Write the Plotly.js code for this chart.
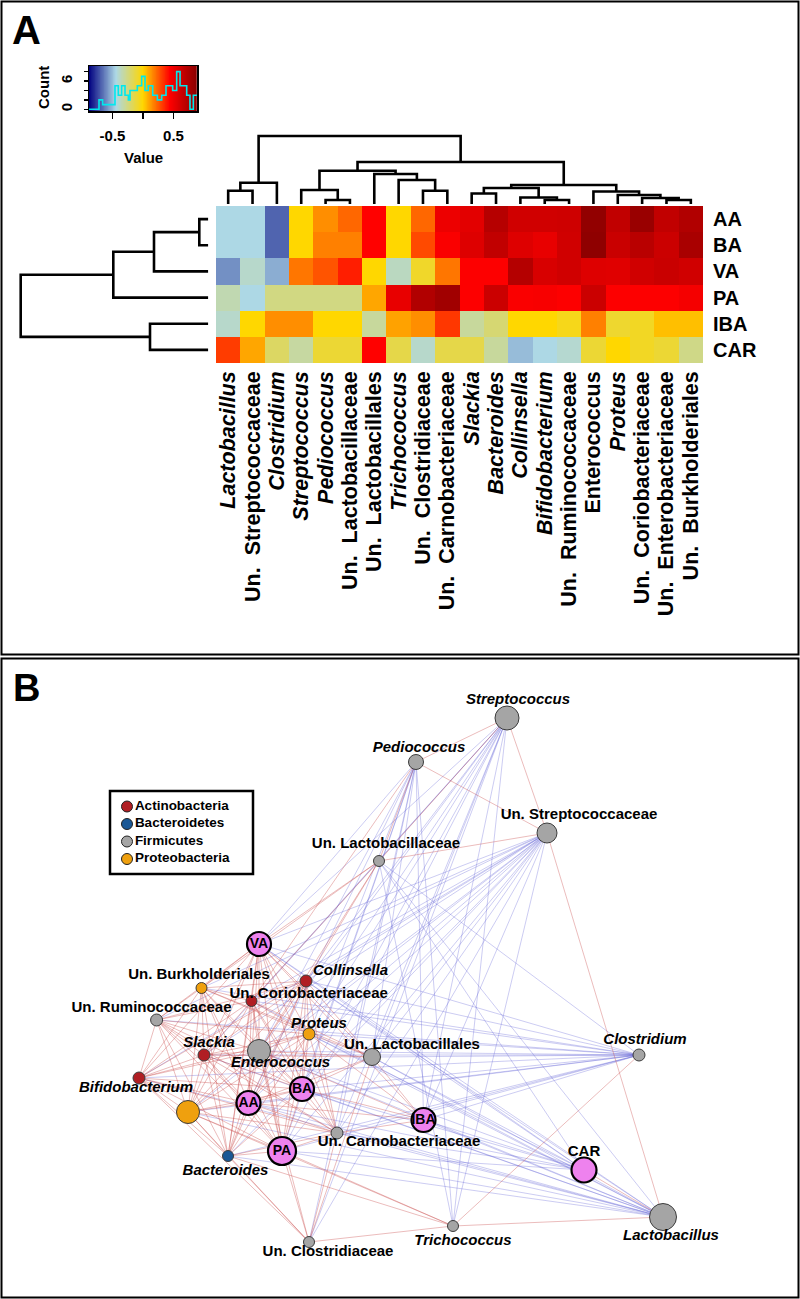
<!DOCTYPE html>
<html><head><meta charset="utf-8">
<script src="https://cdn.plot.ly/plotly-3.0.1.min.js"></script>
<style>html,body{margin:0;padding:0;background:#fff}#chart{width:800px;height:1299px}</style>
</head><body><div id="chart"></div>
<script>
// ---------------- Panel A data ----------------
const colNames = ['Lactobacillus','Un. Streptococcaceae','Clostridium','Streptococcus','Pediococcus','Un. Lactobacillaceae','Un. Lactobacillales','Trichococcus','Un. Clostridiaceae','Un. Carnobacteriaceae','Slackia','Bacteroides','Collinsella','Bifidobacterium','Un. Ruminococcaceae','Enterococcus','Proteus','Un. Coriobacteriaceae','Un. Enterobacteriaceae','Un. Burkholderiales'];
const colItalic = [1,0,1,1,1,0,0,1,0,0,1,1,1,1,0,0,1,0,0,0];
const rowNames = ['AA','BA','VA','PA','IBA','CAR'];
const valAA  = [-0.44,-0.44,-0.68,0.00,0.15,0.23,0.44,0.00,0.23,0.51,0.55,0.72,0.62,0.62,0.63,0.86,0.68,0.83,0.68,0.74];
const valBA  = [-0.44,-0.44,-0.68,0.00,0.18,0.18,0.44,0.00,0.29,0.46,0.57,0.68,0.57,0.53,0.62,0.87,0.65,0.71,0.64,0.77];
const valVA  = [-0.59,-0.39,-0.53,0.20,0.27,0.38,0.00,-0.37,-0.08,0.20,0.45,0.45,0.73,0.59,0.62,0.57,0.56,0.62,0.65,0.62];
const valPA  = [-0.34,-0.44,-0.25,-0.25,-0.25,-0.25,0.10,0.53,0.74,0.80,0.45,0.64,0.46,0.47,0.45,0.64,0.45,0.45,0.45,0.48];
const valIBA = [-0.39,0.00,0.15,0.15,0.00,0.00,-0.30,0.11,0.15,0.33,-0.30,-0.22,0.00,0.00,-0.05,0.18,-0.09,-0.07,0.05,0.05];
const valCAR = [0.32,0.10,-0.19,-0.31,-0.10,-0.10,0.44,-0.14,-0.39,-0.14,-0.14,-0.30,-0.50,-0.44,-0.40,-0.10,0.00,-0.07,-0.10,-0.26];

// column dendrogram (R hclust style: negative = leaf, positive = earlier merge)
const colMerge = [[-5,-6],[-14,-15],[-19,-20],[-13,2],[-18,3],[-17,5],[-11,-12],[-16,6],[-1,-2],[-9,-10],[-4,1],[7,4],[12,8],[9,-3],[-8,10],[-7,15],[11,16],[17,13],[14,18]];
const colHeight = [4,4,4,6.5,6,9,10.5,12.5,13.3,13.3,14,16,19,21.3,24,30,33.3,42,68];
// row dendrogram
const rowMerge = [[-1,-2],[1,-3],[2,-4],[-5,-6],[3,4]];
const rowHeight = [9,54.3,95,58.3,187.6];

// colour key histogram
const histEdges  = [-0.885,-0.721,-0.661,-0.623,-0.459,-0.405,-0.350,-0.295,-0.240,-0.213,-0.158,-0.093,-0.022,0.033,0.087,0.159,0.235,0.306,0.377,0.432,0.486,0.552,0.607,0.661,0.716,0.770,0.825,0.885];
const histCounts = [0,2,1,1,5,3,5,3,2,4,4,5,7,4,5,3,2,3,5,5,4,8,5,5,3,0,3];

// ---------------- Panel B data ----------------
const nodeIds    = ['Strep','Pedio','UStrep','ULactoceae','VA','UBurk','Coll','UCorio','URumi','Prot','Slack','Entero','ULactoales','Clost','Bifido','UEntero','AA','BA','IBA','UCarno','PA','Bact','CAR','Lacto','Tricho','UClost'];
const nodeNames  = ['Streptococcus','Pediococcus','Un. Streptococcaceae','Un. Lactobacillaceae','VA','Un. Burkholderiales','Collinsella','Un. Coriobacteriaceae','Un. Ruminococcaceae','Proteus','Slackia','Enterococcus','Un. Lactobacillales','Clostridium','Bifidobacterium','','AA','BA','IBA','Un. Carnobacteriaceae','PA','Bacteroides','CAR','Lactobacillus','Trichococcus','Un. Clostridiaceae'];
const nodeItalic = [1,1,0,0,0,0,1,0,0,1,1,1,0,1,1,0,0,0,0,0,0,1,0,1,1,0];
const nodeGroup  = ['F','F','F','F','M','P','A','A','F','P','A','F','F','F','A','P','M','M','M','F','M','B','M','F','F','F'];
const nodeX = [507,416,547,379,259,201.5,306,251.5,156.6,309,204,259,372,639,139,188,248.5,302,423.5,337,282,228,584,663,453,309];
const nodeY = [718,762,833,861,944,988,981,1001,1020,1034,1055,1051,1057,1055,1078,1112,1103,1089,1120,1133,1151,1156,1170,1217,1226,1242];
const nodeSize = [24,15,20,11,24,11,12,11,12,12,12,23,17,12,12,23,24,24,24,12,28,11,25,27,11,11];
const labelX = [518,419,579,386,259,199,350.5,308.7,151.5,319,209,280.6,412,645,136,null,248.5,302,423.5,399,282,225.5,584,671,463,328];
const labelY = [700,748,815,844,944,975,971,994,1008,1024,1043,1063,1045,1040,1088,null,1103,1089,1120,1142,1151,1171,1152,1236,1241,1252];

const posAdj = [
 'VA:AA,BA,PA,Coll,UCorio,UBurk,URumi,Prot,Slack,Entero,Bifido,UEntero,Bact,UCarno,ULactoales,ULactoceae,IBA',
 'AA:BA,PA,Coll,UCorio,UBurk,URumi,Prot,Slack,Entero,Bifido,UEntero,Bact,UCarno,ULactoales,IBA',
 'BA:PA,Coll,UCorio,UBurk,URumi,Prot,Slack,Entero,Bifido,UEntero,Bact,UCarno,ULactoales,IBA',
 'PA:Coll,UCorio,UBurk,URumi,Prot,Slack,Entero,Bifido,UEntero,Bact,UCarno,Tricho,UClost',
 'Coll:UCorio,UBurk,URumi,Prot,Slack,Entero,Bifido,UEntero,Bact,UCarno,ULactoales,ULactoceae',
 'UCorio:UBurk,URumi,Prot,Slack,Entero,Bifido,UEntero,Bact,UCarno,ULactoales,ULactoceae',
 'UBurk:URumi,Prot,Slack,Entero,Bifido,UEntero,Bact,ULactoales',
 'URumi:Prot,Slack,Entero,Bifido,UEntero,Bact,UCarno',
 'Prot:Slack,Entero,Bifido,UEntero,Bact,UCarno,ULactoales,IBA',
 'Slack:Entero,Bifido,UEntero,Bact,UCarno,ULactoales',
 'Entero:Bifido,UEntero,Bact,UCarno,ULactoales,IBA,UClost',
 'Bifido:UEntero,Bact,UCarno,UClost',
 'UEntero:Bact,UCarno,UClost,Tricho',
 'Bact:UCarno,UClost,Tricho',
 'UCarno:IBA,UClost',
 'IBA:ULactoales',
 'ULactoceae:Strep,Pedio,UStrep,Entero,UBurk',
 'Strep:Pedio,UStrep',
 'Pedio:UStrep,UCorio',
 'UStrep:Lacto',
 'Clost:Tricho',
 'Lacto:Tricho,CAR',
 'UClost:Tricho,ULactoales'
];
const negAdj = [
 'Strep:VA,AA,BA,Entero,UCorio,Coll,Prot,UCarno,Slack,PA,IBA,ULactoales',
 'Pedio:AA,BA,VA,Entero,ULactoales,Prot,UCarno,IBA,PA',
 'UStrep:VA,AA,BA,PA,Coll,UCorio,UBurk,URumi,Prot,Slack,Entero,Bifido,UEntero,Bact,UCarno,ULactoales,IBA,UClost,Tricho',
 'Clost:VA,AA,BA,PA,Coll,UCorio,UBurk,URumi,Prot,Slack,Entero,Bifido,UEntero,Bact,UCarno,ULactoales,IBA',
 'Lacto:VA,AA,BA,PA,Coll,UCorio,Prot,Slack,Entero,Bifido,UEntero,Bact,UCarno,ULactoales,IBA',
 'CAR:AA,BA,VA,Entero,Prot,UCarno,IBA,PA,Coll,ULactoales',
 'ULactoceae:Clost,Lacto,CAR,Tricho',
 'Tricho:Strep,Pedio',
 'UClost:Strep,Pedio'
];

const groupKeys   = ['A','B','F','P','M'];
const groupColors = ['#B01E23','#1B5896','#A5A5A5','#EFA00E','#EE82EE'];
const phylumNames = ['Actinobacteria','Bacteroidetes','Firmicutes','Proteobacteria'];

// ---------------- build ----------------
const W = 800, H = 1299;
const domX = (a,b) => [a/W, b/W];
const domY = (t,b) => [1-b/H, 1-t/H];
const FONT = 'Liberation Sans, Arial, Helvetica, sans-serif';
const cscale = [[0,'#000080'],[0.25,'#ADD8E6'],[0.5,'#FFD700'],[0.75,'#FF0000'],[1,'#8B0000']];
const ZMIN = -0.885, ZMAX = 0.885;

const traces = [];
const colIdx = colNames.map((_,i)=>i);
const rowIdx = rowNames.map((_,i)=>i);
traces.push({type:'heatmap', x:colIdx, y:rowIdx, z:[valAA,valBA,valVA,valPA,valIBA,valCAR],
  colorscale:cscale, zmin:ZMIN, zmax:ZMAX, showscale:false, hoverinfo:'skip', xaxis:'x', yaxis:'y'});

function dendro(merge, heights, leafPos){
  const pos=[], hgt=[], segs=[];
  const info = id => id<0 ? {p:leafPos[-id-1], h:0} : {p:pos[id-1], h:hgt[id-1]};
  merge.forEach((m,i)=>{
    const a=info(m[0]), b=info(m[1]), h=heights[i];
    segs.push([[a.p,a.h],[a.p,h],[b.p,h],[b.p,b.h]]);
    pos.push((a.p+b.p)/2); hgt.push(h);
  });
  return segs;
}
function segTrace(segs, swap, xa, ya){
  const xs=[], ys=[];
  segs.forEach(s=>{ s.forEach(pt=>{ xs.push(swap?pt[1]:pt[0]); ys.push(swap?pt[0]:pt[1]); }); xs.push(null); ys.push(null); });
  return {type:'scatter', mode:'lines', x:xs, y:ys, xaxis:xa, yaxis:ya, hoverinfo:'skip',
    line:{color:'#000', width:2.6}, connectgaps:false};
}
traces.push(segTrace(dendro(colMerge,colHeight,colIdx), false, 'x2','y2'));
traces.push(segTrace(dendro(rowMerge,rowHeight,rowIdx), true, 'x3','y3'));

// colour key
const keyVals = []; for(let i=0;i<=240;i++) keyVals.push(ZMIN + (ZMAX-ZMIN)*i/240);
traces.push({type:'heatmap', x:keyVals, y:[-1,10], z:[keyVals,keyVals], colorscale:cscale, zmin:ZMIN, zmax:ZMAX,
  showscale:false, hoverinfo:'skip', xaxis:'x4', yaxis:'y4'});
traces.push({type:'scatter', mode:'lines', x:histEdges, y:histCounts.concat([histCounts[histCounts.length-1]]),
  line:{shape:'hv', color:'#00E8EE', width:1.6}, hoverinfo:'skip', xaxis:'x4', yaxis:'y4', cliponaxis:false});

// network edges
const idIndex = {}; nodeIds.forEach((id,i)=>idIndex[id]=i);
function addEdges(adj, color){
  adj.forEach(line=>{
    const [a, rest] = line.split(':');
    rest.split(',').forEach(b=>{
      const i=idIndex[a], j=idIndex[b];
      traces.push({type:'scatter', mode:'lines', x:[nodeX[i],nodeX[j]], y:[nodeY[i],nodeY[j]],
        line:{color:color, width:1}, hoverinfo:'skip', xaxis:'x5', yaxis:'y5'});
    });
  });
}
addEdges(negAdj, 'rgba(95,95,215,0.32)');
addEdges(posAdj, 'rgba(200,70,70,0.36)');

// nodes
const nodeColor = nodeGroup.map(g=>groupColors[groupKeys.indexOf(g)]);
const nodeLineC = nodeGroup.map(g=> g==='M' ? '#000' : '#3c3c3c');
const nodeLineW = nodeGroup.map(g=> g==='M' ? 2.2 : 1);
traces.push({type:'scatter', mode:'markers', x:nodeX, y:nodeY, xaxis:'x5', yaxis:'y5', hoverinfo:'skip', cliponaxis:false,
  marker:{size:nodeSize, color:nodeColor, line:{color:nodeLineC, width:nodeLineW}, opacity:1}});

// labels
const lx=[], ly=[], lt=[], ls=[];
nodeNames.forEach((n,i)=>{
  if(!n || labelX[i]===null) return;
  lx.push(labelX[i]); ly.push(labelY[i]);
  lt.push(nodeItalic[i] ? '<b><i>'+n+'</i></b>' : '<b>'+n+'</b>');
  ls.push(nodeGroup[i]==='M' && n!=='CAR' ? 14 : 15);
});
traces.push({type:'scatter', mode:'text', x:lx, y:ly, text:lt, textposition:'middle center', cliponaxis:false,
  textfont:{family:FONT, size:ls, color:'#000'}, hoverinfo:'skip', xaxis:'x5', yaxis:'y5'});

// network legend
const legY = [806.5,824,841.5,859];
traces.push({type:'scatter', mode:'markers+text', x:[127,127,127,127], y:legY,
  text:phylumNames.map(n=>'<b>'+n+'</b>'), textposition:'middle right',
  textfont:{family:FONT, size:13.5, color:'#000'}, cliponaxis:false,
  marker:{size:11, color:groupColors.slice(0,4), line:{color:'#222', width:1}},
  hoverinfo:'skip', xaxis:'x5', yaxis:'y5'});

const hidden = {visible:false, showgrid:false, zeroline:false, fixedrange:true};
const layout = {
  width:W, height:H, margin:{l:0,r:0,t:0,b:0}, paper_bgcolor:'#fff', plot_bgcolor:'rgba(0,0,0,0)',
  showlegend:false, font:{family:FONT, color:'#000'},
  xaxis:{domain:domX(216,703), range:[-0.5,19.5], anchor:'y', showgrid:false, zeroline:false, showline:false,
    tickvals:colIdx, ticktext:colNames.map((n,i)=> colItalic[i] ? '<b><i>'+n+'</i></b>' : '<b>'+n.replace('Un. ','Un.\u00a0 ')+'</b>'),
    tickangle:-90, ticks:'', ticklabelstandoff:3, tickfont:{family:FONT, size:21.5, color:'#000'}},
  yaxis:{domain:domY(206,363), range:[5.5,-0.5], anchor:'x', side:'right', showgrid:false, zeroline:false, showline:false,
    tickvals:rowIdx, ticktext:rowNames.map(n=>'<b>'+n+'</b>'), ticks:'', ticklabelstandoff:9,
    tickfont:{family:FONT, size:20, color:'#000'}},
  xaxis2:Object.assign({domain:domX(216,703), range:[-0.5,19.5], anchor:'y2'}, hidden),
  yaxis2:Object.assign({domain:domY(128,204), range:[0,76], anchor:'x2'}, hidden),
  xaxis3:Object.assign({domain:domX(15,208.3), range:[193.3,0], anchor:'y3'}, hidden),
  yaxis3:Object.assign({domain:domY(206,363), range:[5.5,-0.5], anchor:'x3'}, hidden),
  xaxis4:{domain:domX(89,197), range:[ZMIN,ZMAX], anchor:'y4', showgrid:false, zeroline:false,
    showline:true, mirror:true, linecolor:'#000', linewidth:1.5,
    tickvals:[-0.5,0,0.5], ticktext:['<b>-0.5</b>','','<b>0.5</b>'], ticks:'outside', ticklen:6, tickwidth:1.5, tickcolor:'#000',
    ticklabelstandoff:4, tickfont:{family:FONT, size:15, color:'#000'}},
  yaxis4:{domain:domY(66,111), range:[-0.36,9.2], anchor:'x4', showgrid:false, zeroline:false,
    showline:true, mirror:true, linecolor:'#000', linewidth:1.5,
    tickvals:[0,2,4,6,8], ticktext:['<b>0</b>','','','<b>6</b>',''], ticks:'outside', ticklen:4, tickwidth:1.5, tickcolor:'#000',
    tickangle:-90, ticklabelstandoff:6, tickfont:{family:FONT, size:15, color:'#000'}},
  xaxis5:Object.assign({domain:domX(0,800), range:[0,800], anchor:'y5'}, hidden),
  yaxis5:Object.assign({domain:domY(657,1297), range:[1297,657], anchor:'x5'}, hidden),
  shapes:[
    {type:'rect', xref:'paper', yref:'paper', x0:1.5/W, x1:798.5/W, y0:1-654.5/H, y1:1-1.5/H, line:{color:'#000', width:2}},
    {type:'rect', xref:'paper', yref:'paper', x0:1.5/W, x1:798.5/W, y0:1-1297.5/H, y1:1-658.5/H, line:{color:'#000', width:2}},
    {type:'rect', xref:'x5', yref:'y5', x0:110, x1:253, y0:791, y1:874, line:{color:'#000', width:2.5}, layer:'below'}
  ],
  annotations:[
    {xref:'paper', yref:'paper', x:10/W, y:1-30/H, xanchor:'left', yanchor:'middle', showarrow:false,
      text:'<b>A</b>', font:{family:FONT, size:40, color:'#000'}},
    {xref:'paper', yref:'paper', x:11/W, y:1-688/H, xanchor:'left', yanchor:'middle', showarrow:false,
      text:'<b>B</b>', font:{family:FONT, size:38, color:'#000'}},
    {xref:'paper', yref:'paper', x:143/W, y:1-157/H, xanchor:'center', yanchor:'middle', showarrow:false,
      text:'<b>Value</b>', font:{family:FONT, size:15, color:'#000'}},
    {xref:'paper', yref:'paper', x:43/W, y:1-88/H, xanchor:'center', yanchor:'middle', showarrow:false, textangle:-90,
      text:'<b>Count</b>', font:{family:FONT, size:15, color:'#000'}}
  ]
};
Plotly.newPlot('chart', traces, layout, {staticPlot:true, displayModeBar:false});
</script></body></html>
